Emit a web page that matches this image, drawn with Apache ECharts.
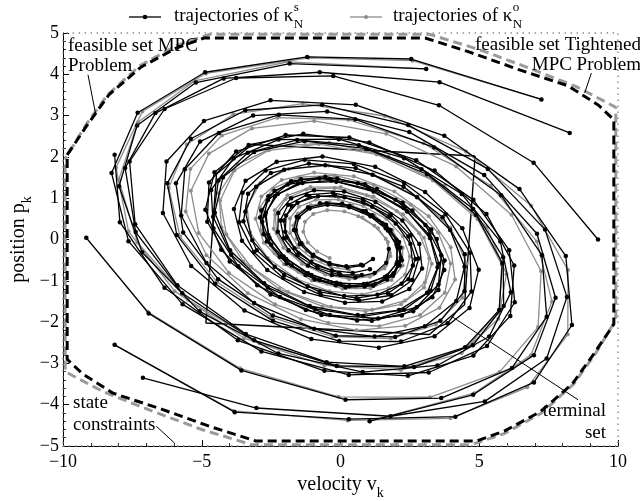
<!DOCTYPE html>
<html><head><meta charset="utf-8">
<script src="https://cdn.jsdelivr.net/npm/echarts@6/dist/echarts.min.js"></script>
<style>html,body{margin:0;padding:0;background:#fff}#c{width:640px;height:501px}</style>
</head><body><div id="c"></div>
<script>
// ---- tick values ----
const xTickInterval = 5;
const yTickInterval = 1;

// ---- black trajectories (kappa_N^s) ----
const blackA = [[-8.14,2.05],[-7.95,0.42],[-6.34,-1.17],[-3.70,-2.44],[-0.58,-3.18],[2.43,-3.30],[4.79,-2.81],[6.12,-1.85],[6.26,-0.63],[5.26,0.62],[3.39,1.67],[1.04,2.35],[-1.34,2.56],[-3.31,2.29],[-4.54,1.63],[-4.87,0.72],[-4.30,-0.25],[-3.00,-1.11],[-1.25,-1.71],[0.60,-1.96],[2.21,-1.84],[3.31,-1.40],[3.74,-0.74],[3.47,0.01],[2.59,0.70],[1.31,1.22],[-0.12,1.48],[-1.42,1.46],[-2.38,1.18],[-2.85,0.70],[-2.77,0.13],[-2.19,-0.42],[-1.26,-0.86],[-0.17,-1.11],[0.87,-1.14],[1.68,-0.97],[2.13,-0.63],[2.16,-0.20],[1.80,0.23],[1.14,0.59],[0.32,0.82],[-0.50,0.88],[-1.17,0.78],[-1.58,0.55],[-1.68,0.23],[-1.47,-0.11],[-1.00,-0.40],[-0.39,-0.60],[0.25,-0.68],[0.80,-0.63],[1.17,-0.47]];
const blackB = [[-9.16,0.04],[-6.91,-1.79],[-3.57,-3.17],[0.18,-3.88],[3.63,-3.84],[6.18,-3.11],[7.43,-1.87],[7.26,-0.38],[5.79,1.07],[3.38,2.23],[0.53,2.91],[-2.22,3.02],[-4.38,2.58],[-5.61,1.70],[-5.74,0.58],[-4.83,-0.57],[-3.11,-1.54],[-0.95,-2.16],[1.23,-2.35],[3.04,-2.10],[4.17,-1.49],[4.47,-0.66],[3.95,0.23],[2.76,1.02],[1.15,1.57],[-0.55,1.80],[-2.03,1.69],[-3.04,1.28],[-3.43,0.67],[-3.18,-0.02],[-2.37,-0.66],[-1.18,-1.13],[0.13,-1.37],[1.33,-1.34],[2.20,-1.07],[2.61,-0.63],[2.52,-0.11],[1.99,0.39],[1.14,0.79],[0.14,1.02],[-0.81,1.05],[-1.55,0.89],[-1.96,0.58],[-1.99,0.19],[-1.66,-0.21],[-1.06,-0.54],[-0.31,-0.75],[0.44,-0.81],[1.06,-0.72]];
const blackC = [[-8.14,-2.55],[-3.81,-4.18],[0.30,-4.35],[4.14,-4.29],[6.97,-3.46],[8.34,-2.07],[8.12,-0.40],[6.45,1.22],[3.74,2.51],[0.55,3.26],[-2.52,3.37],[-4.92,2.87],[-6.27,1.89],[-6.40,0.64],[-5.38,-0.64],[-3.46,-1.72],[-1.05,-2.41],[1.38,-2.62],[3.39,-2.34],[4.65,-1.66],[4.98,-0.73],[4.39,0.27],[3.05,1.15],[1.25,1.76],[-0.65,2.01],[-2.30,1.88],[-3.42,1.42],[-3.84,0.74],[-3.55,-0.03],[-2.64,-0.74],[-1.31,-1.27],[0.16,-1.53],[1.50,-1.50],[2.48,-1.20],[2.94,-0.70],[2.84,-0.11],[2.23,0.46],[1.26,0.91],[0.13,1.16],[-0.95,1.19],[-1.78,1.00],[-2.24,0.64],[-2.26,0.19],[-1.87,-0.26],[-1.17,-0.63],[-0.31,-0.86],[0.54,-0.92],[1.23,-0.81],[1.65,-0.56],[1.74,-0.23]];
const blackD = [[-7.12,-3.35],[-3.03,-4.08],[1.80,-4.28],[5.20,-3.92],[7.43,-2.88],[8.16,-1.39],[7.37,0.24],[5.31,1.71],[2.44,2.77],[-0.66,3.26],[-3.43,3.13],[-5.39,2.44],[-6.24,1.36],[-5.90,0.11],[-4.52,-1.07],[-2.43,-1.97],[-0.05,-2.46],[2.18,-2.47],[3.86,-2.03],[4.72,-1.26],[4.67,-0.32],[3.79,0.61],[2.29,1.37],[0.48,1.83],[-1.29,1.93],[-2.70,1.67],[-3.53,1.13],[-3.66,0.42],[-3.12,-0.31],[-2.06,-0.93],[-0.71,-1.34],[0.67,-1.48],[1.83,-1.35],[2.59,-0.98],[2.82,-0.46],[2.53,0.10],[1.81,0.61],[0.81,0.97],[-0.27,1.13],[-1.22,1.08],[-1.89,0.84],[-2.17,0.46],[-2.04,0.03],[-1.56,-0.38],[-0.83,-0.69],[0.00,-0.86],[0.77,-0.86]];
const blackE = [[7.24,3.39],[2.55,4.37],[-1.20,4.42],[-4.88,4.05],[-7.31,3.07],[-8.25,1.61],[-7.64,-0.04],[-5.69,-1.57],[-2.85,-2.71],[0.30,-3.28],[3.18,-3.22],[5.28,-2.58],[6.28,-1.52],[6.08,-0.26],[4.79,0.96],[2.73,1.92],[0.32,2.47],[-1.98,2.53],[-3.76,2.13],[-4.74,1.38],[-4.80,0.43],[-3.99,-0.53],[-2.52,-1.33],[-0.69,-1.83],[1.13,-1.97],[2.62,-1.74],[3.53,-1.22],[3.75,-0.51],[3.27,0.24],[2.24,0.89],[0.88,1.34],[-0.55,1.52],[-1.78,1.41],[-2.60,1.05],[-2.90,0.53],[-2.65,-0.05],[-1.94,-0.58],[-0.93,-0.97],[0.18,-1.16],[1.18,-1.12],[1.89,-0.88],[2.21,-0.50],[2.11,-0.06],[1.64,0.36],[0.91,0.69],[0.06,0.87],[-0.74,0.88]];
const blackF = [[8.26,2.58],[3.57,3.81],[-0.75,4.05],[-4.21,3.90],[-6.67,3.06],[-7.76,1.73],[-7.38,0.18],[-5.70,-1.30],[-3.11,-2.44],[-0.14,-3.06],[2.65,-3.09],[4.77,-2.56],[5.88,-1.61],[5.86,-0.43],[4.78,0.74],[2.92,1.70],[0.66,2.28],[-1.56,2.41],[-3.34,2.10],[-4.40,1.43],[-4.59,0.55],[-3.94,-0.37],[-2.62,-1.16],[-0.92,-1.68],[0.82,-1.86],[2.29,-1.70],[3.25,-1.24],[3.55,-0.59],[3.19,0.12],[2.28,0.76],[1.03,1.22],[-0.33,1.43],[-1.53,1.36],[-2.37,1.05],[-2.72,0.58],[-2.56,0.04],[-1.96,-0.47],[-1.05,-0.86],[-0.01,-1.07],[0.96,-1.07],[1.68,-0.88],[2.05,-0.54],[2.02,-0.13],[1.63,0.27]];
const blackG = [[9.28,0.00],[6.96,1.86],[3.55,3.25],[-0.26,3.96],[-3.76,3.91],[-6.34,3.16],[-7.60,1.89],[-7.40,0.37],[-5.88,-1.11],[-3.41,-2.29],[-0.50,-2.97],[2.30,-3.07],[4.49,-2.61],[5.72,-1.71],[5.83,-0.57],[4.88,0.60],[3.12,1.58],[0.92,2.20],[-1.29,2.38],[-3.11,2.12],[-4.24,1.50],[-4.53,0.65],[-3.98,-0.26],[-2.75,-1.06],[-1.11,-1.61],[0.62,-1.83],[2.11,-1.71],[3.12,-1.29],[3.50,-0.67],[3.23,0.03],[2.40,0.68],[1.19,1.16],[-0.15,1.40],[-1.37,1.37],[-2.26,1.10],[-2.69,0.65],[-2.60,0.11],[-2.05,-0.41],[-1.17,-0.82],[-0.14,-1.05],[0.84,-1.08],[1.60,-0.91],[2.02,-0.59],[2.05,-0.19],[1.71,0.22],[1.08,0.56],[0.31,0.78],[-0.47,0.84],[-1.11,0.75],[-1.51,0.53],[-1.61,0.23],[-1.41,-0.09],[-0.98,-0.37],[-0.40,-0.57],[0.21,-0.65],[0.74,-0.61]];
const blackH = [[1.05,-4.40],[4.78,-3.76],[6.97,-2.80],[7.75,-1.41],[7.08,0.14],[5.18,1.56],[2.48,2.60],[-0.48,3.10],[-3.15,3.00],[-5.06,2.37],[-5.93,1.36],[-5.67,0.17],[-4.41,-0.96],[-2.44,-1.84],[-0.17,-2.33],[1.97,-2.36],[3.60,-1.97],[4.47,-1.25],[4.48,-0.36],[3.68,0.54],[2.27,1.28],[0.55,1.73],[-1.14,1.84],[-2.51,1.61],[-3.33,1.11],[-3.50,0.44],[-3.02,-0.26],[-2.03,-0.86],[-0.75,-1.27],[0.58,-1.42],[1.71,-1.30],[2.45,-0.96],[2.70,-0.47],[2.45,0.07],[1.77,0.56],[0.82,0.91],[-0.20,1.07],[-1.11,1.03],[-1.76,0.81],[-2.05,0.46],[-1.95,0.05],[-1.51,-0.34],[-0.83,-0.64],[-0.05,-0.81]];
const blackJ = [[3.09,4.13],[-1.83,4.26],[-5.21,3.80],[-7.33,2.76],[-7.98,1.29],[-7.15,-0.31],[-5.08,-1.74],[-2.24,-2.76],[0.80,-3.21],[3.49,-3.05],[5.36,-2.35],[6.14,-1.28],[5.76,-0.05],[4.37,1.10],[2.29,1.97],[-0.06,2.43],[-2.23,2.42],[-3.85,1.97],[-4.66,1.20],[-4.58,0.27],[-3.68,-0.65],[-2.18,-1.39],[-0.38,-1.83],[1.36,-1.91],[2.74,-1.64],[3.53,-1.09],[3.63,-0.38],[3.06,0.35],[1.98,0.96],[0.62,1.36],[-0.76,1.48],[-1.90,1.33],[-2.62,0.95],[-2.82,0.43],[-2.50,-0.13],[-1.76,-0.63],[-0.75,-0.98],[0.32,-1.13],[1.26,-1.07],[1.91,-0.82],[2.17,-0.44],[2.02,-0.01],[1.52,0.39],[0.79,0.69]];

// ---- gray trajectories (kappa_N^o) ----
const grayB = [[-9.16,0.04],[-6.95,-1.75],[-3.62,-3.12],[-0.07,-3.81],[3.22,-3.82],[5.73,-3.21],[7.12,-2.12],[7.23,-0.77],[6.16,0.60],[4.17,1.77],[1.65,2.56],[-0.95,2.87],[-3.19,2.69],[-4.74,2.08],[-5.39,1.18],[-5.11,0.16],[-4.02,-0.81],[-2.36,-1.57],[-0.44,-2.02],[1.40,-2.10],[2.87,-1.83],[3.76,-1.29],[3.97,-0.58],[3.52,0.17],[2.53,0.84],[1.20,1.32],[-0.22,1.55],[-1.50,1.51],[-2.44,1.23],[-2.91,0.77],[-2.87,0.22],[-2.37,-0.33],[-1.52,-0.78],[-0.48,-1.07],[0.56,-1.16],[1.42,-1.05],[1.98,-0.78],[2.18,-0.40],[2.00,0.01],[1.51,0.39],[0.81,0.68],[0.03,0.83],[-0.69,0.84],[-1.25,0.71],[-1.56,0.47],[-1.59,0.17],[-1.35,-0.13]];
const grayC = [[-8.14,-2.55],[-3.85,-4.15],[0.25,-4.38],[3.96,-4.33],[6.73,-3.58],[8.19,-2.30],[8.20,-0.74],[6.87,0.82],[4.52,2.13],[1.60,2.99],[-1.36,3.29],[-3.86,3.03],[-5.54,2.30],[-6.19,1.25],[-5.78,0.07],[-4.45,-1.03],[-2.50,-1.88],[-0.28,-2.35],[1.81,-2.40],[3.44,-2.06],[4.39,-1.41],[4.55,-0.58],[3.96,0.29],[2.76,1.04],[1.20,1.56],[-0.43,1.79],[-1.87,1.71],[-2.89,1.36],[-3.37,0.81],[-3.26,0.17],[-2.62,-0.45],[-1.60,-0.95],[-0.40,-1.25],[0.77,-1.33],[1.73,-1.18],[2.33,-0.85],[2.50,-0.41],[2.25,0.07],[1.65,0.50],[0.82,0.81],[-0.07,0.97],[-0.89,0.96],[-1.50,0.79],[-1.82,0.51],[-1.82,0.16],[-1.52,-0.19],[-0.99,-0.48],[-0.34,-0.67],[0.32,-0.74]];
const grayE = [[7.24,3.39],[2.60,4.33],[-1.15,4.40],[-4.85,4.02],[-7.14,3.10],[-8.09,1.74],[-7.64,0.20],[-5.98,-1.25],[-3.47,-2.39],[-0.58,-3.05],[2.18,-3.16],[4.37,-2.75],[5.69,-1.92],[5.98,-0.84],[5.27,0.30],[3.75,1.30],[1.73,2.01],[-0.41,2.34],[-2.32,2.26],[-3.71,1.82],[-4.38,1.12],[-4.29,0.29],[-3.51,-0.53],[-2.21,-1.20],[-0.65,-1.62],[0.90,-1.74],[2.18,-1.57],[3.01,-1.16],[3.29,-0.59],[3.01,0.04],[2.25,0.61],[1.19,1.04],[0.01,1.27],[-1.08,1.27],[-1.91,1.07],[-2.37,0.71],[-2.41,0.26],[-2.06,-0.20],[-1.39,-0.59],[-0.55,-0.85],[0.31,-0.96],[1.06,-0.90],[1.58,-0.70],[1.80,-0.40],[1.71,-0.06],[1.35,0.27],[0.79,0.53],[0.14,0.68],[-0.48,0.71],[-0.98,0.62],[-1.28,0.43],[-1.34,0.19],[-1.18,-0.07],[-0.84,-0.29],[-0.39,-0.45]];
const grayH = [[1.05,-4.40],[4.82,-3.72],[6.86,-2.80],[7.62,-1.50],[7.08,-0.05],[5.42,1.30],[3.00,2.33],[0.28,2.90],[-2.28,2.95],[-4.27,2.52],[-5.41,1.71],[-5.58,0.68],[-4.83,-0.38],[-3.34,-1.30],[-1.42,-1.93],[0.58,-2.20],[2.33,-2.09],[3.57,-1.65],[4.13,-0.97],[3.97,-0.19],[3.18,0.56],[1.94,1.16],[0.48,1.53],[-0.95,1.62],[-2.12,1.44],[-2.85,1.04],[-3.06,0.50],[-2.76,-0.08],[-2.03,-0.60],[-1.03,-0.99],[0.07,-1.19],[1.08,-1.18],[1.84,-0.98],[2.24,-0.63],[2.24,-0.20],[1.87,0.23],[1.22,0.59],[0.42,0.82],[-0.39,0.90],[-1.07,0.83],[-1.53,0.63],[-1.70,0.34],[-1.58,0.02],[-1.22,-0.28],[-0.69,-0.51],[-0.09,-0.64]];
const grayJ = [[3.09,4.13],[-1.88,4.30],[-5.26,3.84],[-7.30,2.84],[-7.99,1.45],[-7.32,-0.07],[-5.50,-1.46],[-2.92,-2.51],[-0.06,-3.06],[2.59,-3.07],[4.61,-2.58],[5.72,-1.70],[5.81,-0.61],[4.94,0.49],[3.33,1.43],[1.30,2.06],[-0.78,2.31],[-2.58,2.16],[-3.82,1.67],[-4.34,0.94],[-4.11,0.12],[-3.23,-0.66],[-1.89,-1.27],[-0.34,-1.63],[1.14,-1.70],[2.33,-1.48],[3.04,-1.04],[3.20,-0.46],[2.83,0.15],[2.02,0.69],[0.94,1.07],[-0.21,1.25],[-1.23,1.21],[-1.98,0.98],[-2.35,0.60],[-2.30,0.15],[-1.88,-0.29],[-1.18,-0.65],[-0.34,-0.87],[0.49,-0.94],[1.18,-0.85],[1.63,-0.63],[1.78,-0.32],[1.63,0.02],[1.22,0.33],[0.64,0.56]];

// ---- sets ----
const stateConstraints = [[-10,-5],[10,-5],[10,5],[-10,5],[-10,-5]];
const feasibleMPC = [[-9.85,2.05],[-9.15,2.75],[-8.35,3.5],[-7.2,4.17],[-5.9,4.64],[-4.9,4.88],[3.05,4.88],[4.6,4.55],[6.4,4.12],[8.2,3.72],[9.3,3.25],[9.85,2.9],[9.85,-2.05],[9.15,-2.75],[8.35,-3.5],[7.2,-4.17],[5.9,-4.64],[4.9,-4.88],[-3.05,-4.88],[-4.6,-4.55],[-6.4,-4.12],[-8.2,-3.72],[-9.3,-3.25],[-9.85,-2.9],[-9.85,2.05]];
const feasibleTightened = [[-9.92,1.95],[-9.2,2.75],[-8.4,3.5],[-7.25,4.2],[-5.9,4.7],[-4.7,4.97],[3.2,4.97],[5.0,4.6],[6.8,4.15],[8.5,3.7],[9.5,3.35],[9.92,3.2],[9.92,-1.95],[9.2,-2.75],[8.4,-3.5],[7.25,-4.2],[5.9,-4.7],[4.7,-4.97],[-3.2,-4.97],[-5.0,-4.6],[-6.8,-4.15],[-8.5,-3.7],[-9.5,-3.35],[-9.92,-3.2],[-9.92,1.95]];
const terminalSet = [[4.85,2.02],[4.47,-1.58],[3.2,-2.3],[-4.85,-2.02],[-4.47,1.58],[-3.2,2.3],[4.85,2.02]];

// ---- annotation leader lines ----
const leaderProblem = [[-9.1,3.99],[-8.83,3.06]];
const leaderTightened = [[9.04,4.03],[8.8,3.55]];
const leaderState = [[-6.64,-4.52],[-5.98,-4.93]];
const leaderTerminal = [[8.56,-3.88],[4.0,-1.86]];

const blackTraj = [blackA, blackB, blackC, blackD, blackE, blackF, blackG, blackH, blackJ];
const grayTraj = [grayB, grayC, grayE, grayH, grayJ];

const FONT = '"Liberation Serif", "Times New Roman", serif';
const ctx = document.createElement('canvas').getContext('2d');
function tw(s, size) { ctx.font = size + 'px "Liberation Serif"'; return ctx.measureText(s).width; }
const minus = v => String(v).replace('-', '\u2212');

const series = [];
function poly(data, color, width, type, z, extra) {
  return Object.assign({type: 'line', data, symbol: 'none', showSymbol: false, silent: true, clip: false, z,
    lineStyle: {color, width, type}, animation: false}, extra || {});
}
series.push(poly(stateConstraints, '#8a8a8a', 1.4, [1.4, 4.6], 1));
series.push(poly(feasibleTightened, '#9a9a9a', 3, [9, 5], 2, {lineStyle: {color: '#9a9a9a', width: 3, type: [9, 5], dashOffset: 6}}));
series.push(poly(feasibleMPC, '#000', 3, [9, 5], 3));
series.push(poly(terminalSet, '#000', 1.4, 'solid', 4));
grayTraj.forEach((d, i) => series.push({type: 'line', name: 'gray' + i, data: d, symbol: 'circle', symbolSize: 4,
  showSymbol: true, silent: true, animation: false, z: 5,
  lineStyle: {color: '#8c8c8c', width: 1.3}, itemStyle: {color: '#8c8c8c'}}));
blackTraj.forEach((d, i) => series.push({type: 'line', name: 'black' + i, data: d, symbol: 'circle', symbolSize: 4.5,
  showSymbol: true, silent: true, animation: false, z: 6,
  lineStyle: {color: '#000', width: 1.3}, itemStyle: {color: '#000'}}));
[leaderProblem, leaderTightened, leaderState, leaderTerminal].forEach(d => series.push(poly(d, '#000', 1, 'solid', 7)));

// ---- graphic text / legend ----
const g = [];
function txt(text, x, y, size, align, extra) {
  return Object.assign({type: 'text', x, y, silent: true, z: 100,
    style: {text, fill: '#000', fontSize: size, fontFamily: FONT, align: align || 'left', verticalAlign: 'middle'}}, extra || {});
}
const LF = 19;
const legendText = 'trajectories of \u03ba';
const lw = tw(legendText, LF);
// item 1
g.push({type: 'line', shape: {x1: 129, y1: 17, x2: 161, y2: 17}, style: {stroke: '#000', lineWidth: 1.3}, z: 100});
g.push({type: 'circle', shape: {cx: 145, cy: 17, r: 2.3}, style: {fill: '#000'}, z: 100});
g.push(txt(legendText, 174, 16, LF));
g.push(txt('s', 174 + lw + 0.5, 8, 13));
g.push(txt('N', 174 + lw + 0.5, 25, 13));
// item 2
g.push({type: 'line', shape: {x1: 350, y1: 17, x2: 382, y2: 17}, style: {stroke: '#8c8c8c', lineWidth: 1.3}, z: 100});
g.push({type: 'circle', shape: {cx: 366, cy: 17, r: 2.1}, style: {fill: '#8c8c8c'}, z: 100});
g.push(txt(legendText, 393, 16, LF));
g.push(txt('o', 393 + lw + 0.5, 8, 13));
g.push(txt('N', 393 + lw + 0.5, 25, 13));

// annotations
g.push(txt('feasible set MPC', 68, 46, LF));
g.push(txt('Problem', 68, 66, LF));
g.push(txt('feasible set Tightened', 641, 45, LF, 'right'));
g.push(txt('MPC Problem', 641, 65, LF, 'right'));
g.push(txt('state', 73, 403, LF));
g.push(txt('constraints', 73, 425, LF));
g.push(txt('terminal', 606, 411, LF, 'right'));
g.push(txt('set', 606, 433, LF, 'right'));

// axis titles
const TF = 20, SF = 14;
const xw1 = tw('velocity v', TF), xw2 = tw('k', SF);
const xl = 340.5 - (xw1 + xw2) / 2;
g.push(txt('velocity v', xl, 485, TF));
g.push(txt('k', xl + xw1, 493, SF));
const yw1 = tw('position p', TF), yw2 = tw('k', SF);
const ys = 239.5 + (yw1 + yw2) / 2;
g.push(txt('position p', 19, ys, TF, 'left', {rotation: Math.PI / 2}));
g.push(txt('k', 27, ys - yw1, SF, 'left', {rotation: Math.PI / 2}));

const axisCommon = {
  type: 'value',
  axisLine: {show: true, onZero: false, lineStyle: {color: '#000', width: 1}},
  axisTick: {show: true, inside: true, length: 6, lineStyle: {color: '#000', width: 1}},
  minorTick: {show: true, splitNumber: 5, length: 3, lineStyle: {color: '#000', width: 0.8}},
  splitLine: {show: false},
  minorSplitLine: {show: false}
};

const chart = echarts.init(document.getElementById('c'), null, {renderer: 'canvas'});
chart.setOption({
  animation: false,
  backgroundColor: '#fff',
  grid: {left: 63, right: 22, top: 33, bottom: 55, containLabel: false, outerBoundsMode: 'none'},
  xAxis: Object.assign({}, axisCommon, {min: -10, max: 10, interval: xTickInterval,
    axisLabel: {fontFamily: FONT, fontSize: 18, color: '#000', margin: 7, formatter: minus}}),
  yAxis: Object.assign({}, axisCommon, {min: -5, max: 5, interval: yTickInterval,
    axisLabel: {fontFamily: FONT, fontSize: 18, color: '#000', margin: 4, formatter: minus}}),
  series,
  graphic: g
});
</script>
</body></html>
